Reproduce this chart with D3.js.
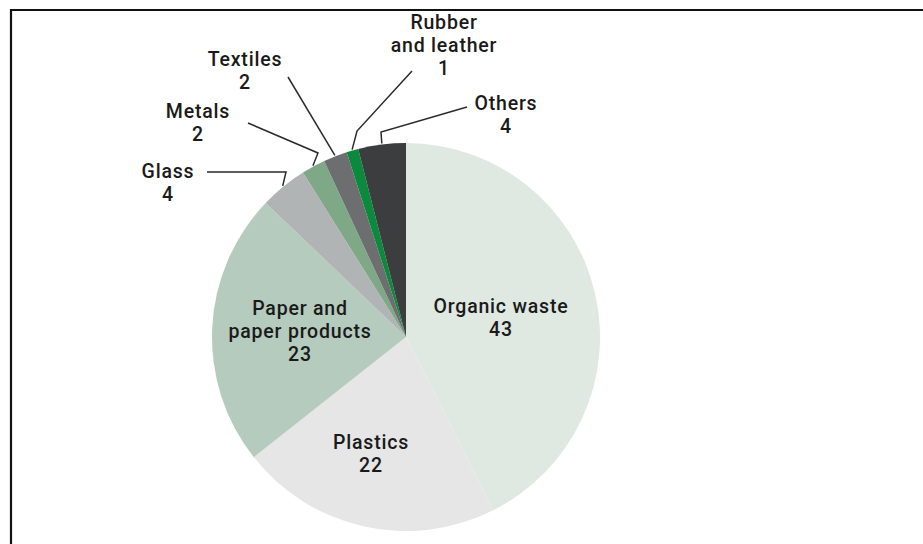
<!DOCTYPE html>
<html>
<head>
<meta charset="utf-8">
<script src="https://cdn.jsdelivr.net/npm/d3@7"></script>
<style>
  html, body { margin: 0; padding: 0; background: #fff; }
  svg { display: block; }
</style>
</head>
<body>
<svg id="chart" width="923" height="544"></svg>
<script>
// Composition of municipal solid waste (%)
const categories = ["Organic waste", "Plastics", "Paper and paper products", "Glass", "Metals", "Textiles", "Rubber and leather", "Others"];
const shares = [43, 22, 23, 4, 2, 2, 1, 4];
const colors = ["#dfe8e1", "#e6e6e6", "#b5cbbd", "#b1b4b4", "#7fa886", "#6d6e70", "#0b8a3d", "#3c3d3f"];

// label lines for each slice (text rows; the value is appended as the last row)
const labelLines = [
  ["Organic waste"],
  ["Plastics"],
  ["Paper and", "paper products"],
  ["Glass"],
  ["Metals"],
  ["Textiles"],
  ["Rubber", "and leather"],
  ["Others"]
];

const W = 923, H = 544;
const cx = 406, cy = 337, R = 194;
const lineH = 23;

const svg = d3.select("#chart");

// frame
svg.append("path")
  .attr("d", `M11,${H + 5} V10 H${W + 5}`)
  .attr("fill", "none")
  .attr("stroke", "#111")
  .attr("stroke-width", 2.2);

const pie = d3.pie().sort(null).value(d => d);
const arcs = pie(shares);
const arc = d3.arc().innerRadius(0).outerRadius(R);

const g = svg.append("g").attr("transform", `translate(${cx},${cy})`);

g.selectAll("path.slice")
  .data(arcs)
  .join("path")
  .attr("class", "slice")
  .attr("d", arc)
  .attr("fill", (d, i) => colors[i]);

// Label placement: inside labels for large slices, outside with leader lines for small ones
// pos = [x, first baseline y] in page coordinates; leader = bend points toward the slice edge
const layout = [
  { pos: [501, 313] },
  { pos: [371, 449] },
  { pos: [300, 315] },
  { pos: [168, 178], leader: [[207, 172], [286, 172]] },
  { pos: [198, 118], leader: [[248, 123], [318, 153]] },
  { pos: [245, 66],  leader: [[288, 77]] },
  { pos: [444, 29],  leader: [[412, 71], [357, 131]] },
  { pos: [506, 110], leader: [[467, 107], [381, 132]] }
];

const text = svg.append("g")
  .attr("font-family", "Roboto, 'Open Sans', sans-serif")
  .attr("font-size", 19.5)
  .attr("font-weight", 500)
  .attr("fill", "#1a1a1a")
  .attr("text-anchor", "middle");

arcs.forEach((a, i) => {
  const L = layout[i];
  const rows = labelLines[i].concat([String(shares[i])]);
  rows.forEach((r, k) => {
    text.append("text")
      .attr("x", L.pos[0])
      .attr("y", L.pos[1] + k * lineH)
      .attr("letter-spacing", 0.8)
      .text(r);
  });

  if (L.leader) {
    const mid = (a.startAngle + a.endAngle) / 2;
    const ex = cx + Math.sin(mid) * (R + 1);
    const ey = cy - Math.cos(mid) * (R + 1);
    const pts = L.leader.concat([[ex, ey]]);
    svg.append("path")
      .attr("d", d3.line()(pts))
      .attr("fill", "none")
      .attr("stroke", "#2b2b2b")
      .attr("stroke-width", 1.5);
  }
});
</script>
</body>
</html>
